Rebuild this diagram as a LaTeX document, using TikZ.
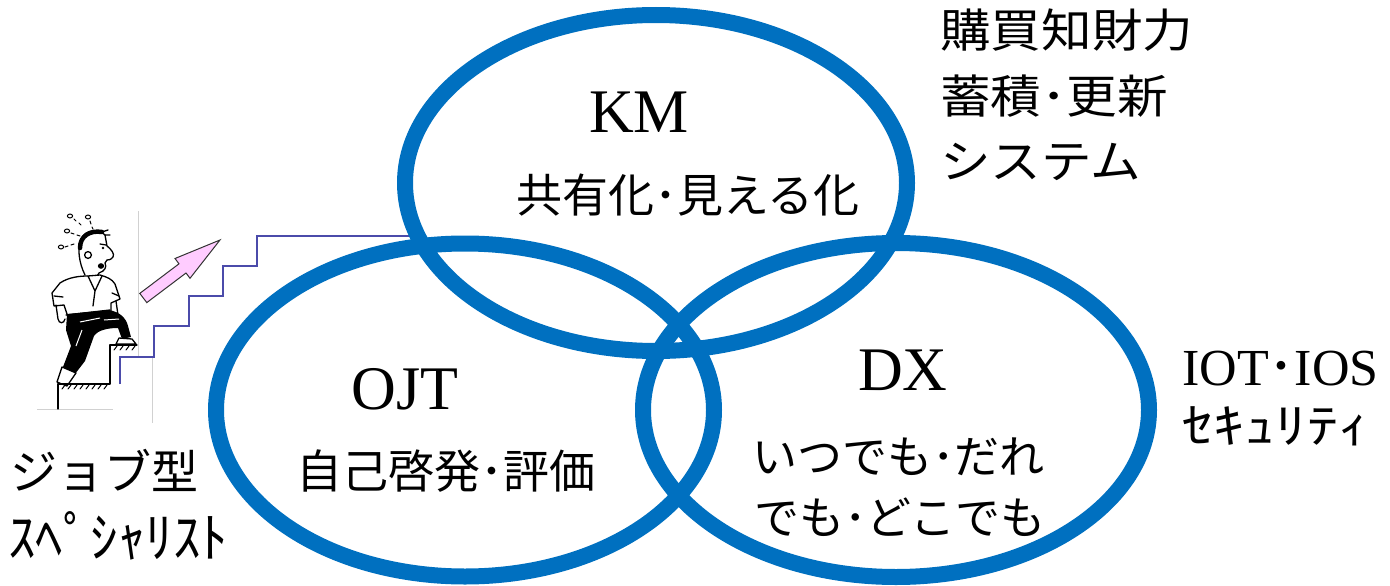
\documentclass[tikz,border=0pt]{standalone}
\usepackage{fontspec}
\usepackage{graphicx}
\setmainfont{Liberation Serif}
\newfontfamily\jp{Noto Sans CJK JP}
\usetikzlibrary{shapes.geometric}
\definecolor{ringblue}{HTML}{0070C0}
\definecolor{stairline}{HTML}{4B4BAA}
\definecolor{arrowpink}{HTML}{FFCCFF}
\begin{document}
\begin{tikzpicture}[x=1pt,y=-1pt,
  ring/.style={draw=ringblue,line width=16pt,ellipse,inner sep=0pt},
  latinlabel/.style={font=\fontsize{62}{62}\selectfont,inner sep=0pt},
  jplabel/.style={font=\jp\fontsize{46}{46}\selectfont,inner sep=0pt},
  sidenote/.style={font=\jp\fontsize{46}{46}\selectfont,inner sep=0pt,anchor=west},
  ink/.style={line width=1.3pt,line join=round,line cap=round}]
\useasboundingbox (0,0) rectangle (1390,586);

% ---------- faint frame of the little figure ----------
\draw[black!18,line width=0.8pt] (138.5,211) -- (138.5,357);
\draw[black!18,line width=0.8pt] (152,357) -- (152,423);
\draw[black!18,line width=0.8pt] (37,409) -- (113,409);

% ---------- staircase leading to the KM ring ----------
\coordinate (stairfoot) at (120,384);
\coordinate (stairtop) at (410,236);
\draw[stairline,line width=2.2pt] (stairfoot) -- (120,357) -- (154,357) -- (154,326)
  -- (189,326) -- (189,296) -- (223,296) -- (223,266) -- (257,266) -- (257,236) -- (stairtop);

% ---------- pink block arrow ----------
\draw[fill=arrowpink,draw=black!80,line width=1pt,line join=miter]
  (139.8,293.4) -- (179.0,263.8) -- (175.0,258.5) -- (220,240)
  -- (190.0,278.3) -- (186.0,273.0) -- (146.8,302.6) -- cycle;

% ---------- climbing man ----------
% sweat drops
\foreach \p in {(70,216),(88,217),(67,231),(61,247)}
  \draw[ink,line width=1pt] \p ellipse (2.6 and 2);
\draw[ink,line width=1pt] (74,219) -- (76,221) (79,223) -- (81,225);
\draw[ink,line width=1pt] (90,221) -- (91,224) (92,227) -- (93,229);
\draw[ink,line width=1pt] (71,233) -- (74,234) (77,235) -- (80,236);
\draw[ink,line width=1pt] (65,247) -- (68,246) (71,245) -- (74,244);
% head
\draw[ink,fill=white] (85,275) .. controls (79,263) and (77,248) .. (81,239)
  .. controls (85,230) and (99,228) .. (105,235) -- (107,246)
  .. controls (111,249) and (115,254) .. (113,257)
  .. controls (111,260) and (108,260) .. (107,260) -- (105,263)
  .. controls (107,267) and (105,271) .. (99,273) -- (96,278);
\draw[line width=4.5pt,line cap=round] (80,248) .. controls (80,236) and (90,230) .. (102,232);
\draw[ink] (102,232) -- (108,230) (105,235) -- (110,235);
\draw[ink] (100,244) -- (106,245);
\fill (103,248) circle (1.4);
\draw[ink] (88,255) circle (3.4);
\fill (101,266) ellipse (3.2 and 2.8);
% shirt and arms
\draw[ink,fill=white] (60,283) .. controls (69,277) and (80,276) .. (88,276)
  -- (100,275) .. controls (107,277) and (112,279) .. (115,284)
  -- (120,299) -- (111,303) -- (111,312) -- (68,317) -- (64,305) -- (54,306)
  -- (52,293) -- cycle;
\draw[ink] (88,276) -- (95,291) -- (102,276) (95,291) -- (93,306);
\draw[ink] (56,305) -- (58,319) .. controls (59,324) and (64,324) .. (65,319);
\draw[ink] (116,301) -- (118,315) .. controls (118,320) and (113,320) .. (112,315);
\draw[ink] (54,296) -- (63,297) (112,293) -- (119,296);
% trousers
\fill (67,314) -- (109,310) .. controls (120,312) and (126,318) .. (128,326)
  -- (131,337) -- (122,339) -- (118,328) .. controls (108,328) and (98,330) .. (94,336)
  -- (85,361) -- (75,374) -- (63,367) -- (71,346) -- (66,330) -- cycle;
\draw[white,line width=1pt] (80,322) -- (100,318) (76,346) -- (82,330) (104,320) -- (119,319);
\draw[ink] (66,315) -- (110,310);
% shoes
\draw[ink,fill=white] (119,338) -- (132,339) -- (136,344) -- (116,344) -- cycle;
\draw[ink,fill=white] (62,367) -- (76,373) -- (67,386) -- (57,382) -- cycle;
% steps under the man
\draw[ink] (58,409) -- (58,384) -- (110,384) -- (110,345) -- (137,345);
\foreach \x in {62,68,...,104} \draw[ink,line width=1pt] (\x,389) -- (\x+3,385);
\foreach \x in {114,120,...,134} \draw[ink,line width=1pt] (\x,350) -- (\x+3,346);

% ---------- the three rings ----------
\node[ring,minimum width=502pt,minimum height=336pt] (km)  at (656,183) {};
\node[ring,minimum width=498pt,minimum height=333pt] (ojt) at (465,410) {};
\node[ring,minimum width=506pt,minimum height=334pt] (dx)  at (896,410) {};

% ---------- ring labels ----------
\node[latinlabel] (kmname)  at (639,112) {KM};
\node[jplabel]    (kmtext)  at (688,195) {共有化･見える化};
\node[latinlabel] (ojtname) at (405,389) {OJT};
\node[jplabel]    (ojttext) at (446,471) {自己啓発･評価};
\node[latinlabel] (dxname)  at (903,370) {DX};
\node[jplabel,anchor=west,font=\jp\fontsize{45}{45}\selectfont] (dxtexta) at (752,457) {いつでも･だれ};
\node[jplabel,anchor=west,font=\jp\fontsize{45}{45}\selectfont] (dxtextb) at (754,517) {でも･どこでも};

% ---------- side notes ----------
\node[sidenote] (notea) at (940,30) {\scalebox{1.1}[1]{購買知財力}};
\node[sidenote] (noteb) at (940,96) {\scalebox{1.1}[1]{蓄積･更新}};
\node[sidenote] (notec) at (940,162) {\scalebox{1.1}[1]{システム}};
\node[anchor=west,inner sep=0pt,font=\fontsize{52}{52}\selectfont] (iot) at (1182,369)
  {IOT{\jp ･}IOS};
\node[sidenote,font=\jp\fontsize{48}{48}\selectfont] (sec) at (1182,426)
  {\scalebox{1.3}[1]{ｾｷｭﾘﾃｨ}};
\node[sidenote,font=\jp\fontsize{47}{47}\selectfont] (joba) at (10,471) {ジョブ型};
\node[sidenote,font=\jp\fontsize{54}{54}\selectfont] (jobb) at (8,536)
  {\scalebox{1.02}[1]{ｽﾍﾟｼｬﾘｽﾄ}};
\end{tikzpicture}
\end{document}
